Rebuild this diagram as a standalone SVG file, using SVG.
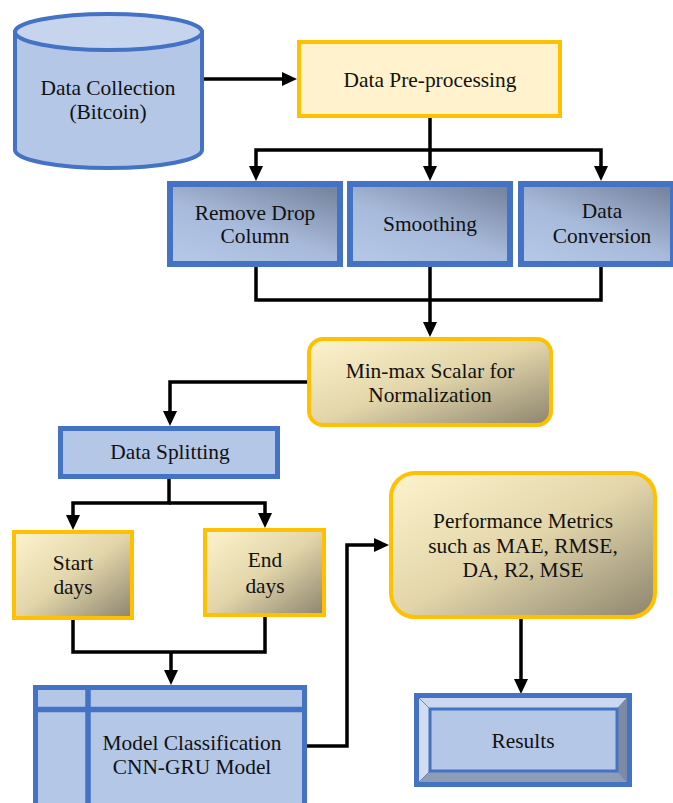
<svg xmlns="http://www.w3.org/2000/svg" width="673" height="803" viewBox="0 0 673 803">
  <defs>
    <linearGradient id="gold" x1="0" y1="0" x2="1" y2="1">
      <stop offset="0" stop-color="#fdf3cc"/>
      <stop offset="0.5" stop-color="#e2d5aa"/>
      <stop offset="1" stop-color="#8c846e"/>
    </linearGradient>
    <linearGradient id="steel" x1="0.15" y1="1" x2="0.85" y2="0">
      <stop offset="0" stop-color="#b4c7e7"/>
      <stop offset="0.45" stop-color="#a8badb"/>
      <stop offset="1" stop-color="#77859f"/>
    </linearGradient>
    <marker id="arrow" markerUnits="userSpaceOnUse" markerWidth="15" markerHeight="14" refX="10" refY="7" orient="auto">
      <path d="M0,0 L15,7 L0,14 Z" fill="#000"/>
    </marker>
    <style>
      .lbl { font-family: 'Liberation Serif', 'DejaVu Serif', serif; font-size: 21.4px; fill: #111; text-anchor: middle; }
      .blue { fill: #b4c7e7; stroke: #4472c4; stroke-width: 5; }
      .steel { fill: url(#steel); stroke: #4472c4; stroke-width: 6; }
      .gold { fill: url(#gold); stroke: #ffc000; stroke-width: 4; }
      .wire { fill: none; stroke: #000; stroke-width: 3.5; stroke-linejoin: miter; }
      .arrowed { marker-end: url(#arrow); }
    </style>
  </defs>

  <!-- connectors -->
  <g id="connectors">
    <path class="wire arrowed" d="M202,79 H292"/>
    <path class="wire arrowed" d="M430,118 V150 H256 V176"/>
    <path class="wire arrowed" d="M430,150 V176"/>
    <path class="wire arrowed" d="M430,150 H601 V176"/>
    <path class="wire" d="M256,267 V300 H430"/>
    <path class="wire" d="M601,267 V300 H430"/>
    <path class="wire arrowed" d="M430,267 V332"/>
    <path class="wire arrowed" d="M307,382 H170 V421"/>
    <path class="wire arrowed" d="M169,479 V503 H73 V525"/>
    <path class="wire arrowed" d="M169,503 H265 V523"/>
    <path class="wire" d="M73,620 V652 H171"/>
    <path class="wire" d="M265,617 V652 H171"/>
    <path class="wire arrowed" d="M171,652 V680"/>
    <path class="wire arrowed" d="M307,746 H347 V545 H384"/>
    <path class="wire arrowed" d="M521,619 V689"/>
  </g>

  <!-- data source cylinder -->
  <g id="data-collection">
    <path d="M15,32 V150 A93.5,18 0 0 0 202,150 V32 Z" fill="#b4c7e7" stroke="#4472c4" stroke-width="4"/>
    <ellipse cx="108.5" cy="32" rx="93.5" ry="18" fill="#c6d4ee" stroke="#4472c4" stroke-width="4"/>
    <text class="lbl" x="108" y="95">Data Collection</text>
    <text class="lbl" x="108" y="119">(Bitcoin)</text>
  </g>

  <g id="pre-processing">
    <rect x="299" y="42" width="261" height="74" fill="#fff2cc" stroke="#ffc000" stroke-width="4"/>
    <text class="lbl" x="430" y="87">Data Pre-processing</text>
  </g>

  <g id="remove-drop-column">
    <rect class="steel" x="170" y="184" width="170" height="80"/>
    <text class="lbl" x="255" y="220">Remove Drop</text>
    <text class="lbl" x="255" y="243">Column</text>
  </g>

  <g id="smoothing">
    <rect class="steel" x="350" y="184" width="160" height="80"/>
    <text class="lbl" x="430" y="231">Smoothing</text>
  </g>

  <g id="data-conversion">
    <rect class="steel" x="521" y="184" width="152" height="80"/>
    <text class="lbl" x="602" y="218">Data</text>
    <text class="lbl" x="602" y="243">Conversion</text>
  </g>

  <g id="min-max-scalar">
    <rect class="gold" x="309" y="339" width="242" height="86" rx="14"/>
    <text class="lbl" x="430" y="378">Min-max Scalar for</text>
    <text class="lbl" x="430" y="402">Normalization</text>
  </g>

  <g id="data-splitting">
    <rect class="blue" x="60.5" y="428.5" width="217" height="48"/>
    <text class="lbl" x="170" y="459">Data Splitting</text>
  </g>

  <g id="start-days">
    <rect class="gold" x="14" y="532" width="118" height="86"/>
    <text class="lbl" x="73" y="570">Start</text>
    <text class="lbl" x="73" y="594">days</text>
  </g>

  <g id="end-days">
    <rect class="gold" x="205" y="530" width="119" height="85"/>
    <text class="lbl" x="265" y="567">End</text>
    <text class="lbl" x="265" y="593">days</text>
  </g>

  <g id="model-classification">
    <rect class="blue" x="35.5" y="687.5" width="269" height="130"/>
    <line x1="35.5" y1="709.5" x2="304.5" y2="709.5" stroke="#4472c4" stroke-width="5.5"/>
    <line x1="88" y1="687.5" x2="88" y2="810" stroke="#4472c4" stroke-width="5.5"/>
    <text class="lbl" x="192" y="750">Model Classification</text>
    <text class="lbl" x="192" y="774">CNN-GRU Model</text>
  </g>

  <g id="performance-metrics">
    <rect class="gold" x="391" y="473" width="264" height="144" rx="24"/>
    <text class="lbl" x="523" y="528">Performance Metrics</text>
    <text class="lbl" x="523" y="553">such as MAE, RMSE,</text>
    <text class="lbl" x="523" y="577">DA, R2, MSE</text>
  </g>

  <g id="results">
    <rect x="416.5" y="695.5" width="213" height="89" fill="#b4c7e7" stroke="#4472c4" stroke-width="5"/>
    <!-- bevel faces -->
    <polygon points="419,698 627,698 617,709 430,709" fill="#cbd8ef"/>
    <polygon points="419,698 430,709 430,771 419,782" fill="#d3ddf1"/>
    <polygon points="627,698 627,782 617,771 617,709" fill="#7d8aa2"/>
    <polygon points="419,782 430,771 617,771 627,782" fill="#8e9cb6"/>
    <g stroke="#6f86b8" stroke-width="1">
      <line x1="419" y1="698" x2="430" y2="709"/>
      <line x1="627" y1="698" x2="617" y2="709"/>
      <line x1="419" y1="782" x2="430" y2="771"/>
      <line x1="627" y1="782" x2="617" y2="771"/>
    </g>
    <rect x="430" y="709" width="187" height="62" fill="#b4c7e7" stroke="#4472c4" stroke-width="3"/>
    <text class="lbl" x="523" y="748">Results</text>
  </g>
</svg>
